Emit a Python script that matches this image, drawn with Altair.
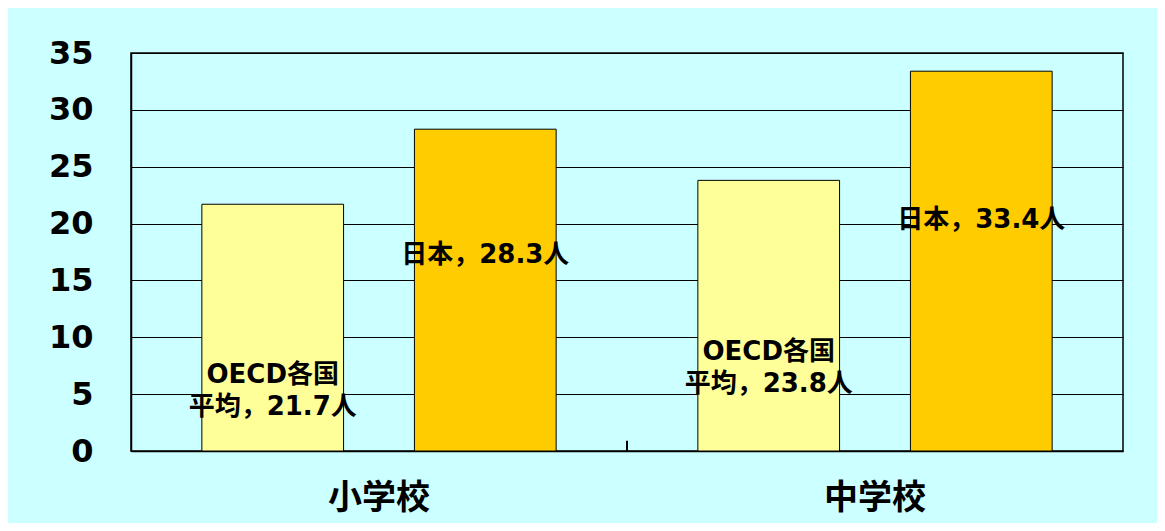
import altair as alt
import pandas as pd

schools = ["小学校", "中学校"]
series = ["OECD各国平均", "日本"]
oecd_values = [21.7, 23.8]
japan_values = [28.3, 33.4]
y_ticks = [0, 5, 10, 15, 20, 25, 30, 35]

rows = []
for s, o, j in zip(schools, oecd_values, japan_values):
    rows.append({"school": s, "series": series[0], "value": o,
                 "label": f"OECD各国\n平均，{o}人"})
    rows.append({"school": s, "series": series[1], "value": j,
                 "label": f"日本，{j}人"})
df = pd.DataFrame(rows)

# annotation anchor heights (data units) for each label, as placed in the original
label_anchor = {("小学校", "OECD各国平均"): 6.65, ("小学校", "日本"): 17.2,
                ("中学校", "OECD各国平均"): 8.7, ("中学校", "日本"): 20.3}
df["label_y"] = [label_anchor[(r.school, r.series)] for r in df.itertuples()]

x_enc = alt.X("school:N", sort=schools,
              scale=alt.Scale(paddingInner=0, paddingOuter=0),
              axis=alt.Axis(title=None, labelAngle=0, ticks=False,
                            labelFontSize=34, labelFont="Noto Sans CJK JP",
                            labelFontWeight="bold", labelColor="black",
                            labelPadding=30, domainColor="black",
                            domainWidth=1.5))
xo_enc = alt.XOffset("series:N", sort=series,
                     scale=alt.Scale(paddingInner=1/3, paddingOuter=1/3))
y_scale = alt.Scale(domain=[0, 35], nice=False)

bars = alt.Chart(df).mark_bar(stroke="black", strokeWidth=1).encode(
    x=x_enc,
    xOffset=xo_enc,
    y=alt.Y("value:Q", scale=y_scale,
            axis=alt.Axis(title=None, values=y_ticks, ticks=False,
                          labelFontSize=32, labelFont="DejaVu Sans",
                          labelFontWeight="bold", labelColor="black",
                          labelPadding=38, grid=True, gridColor="black",
                          gridWidth=1, domainColor="black", domainWidth=1.5)),
    color=alt.Color("series:N", sort=series,
                    scale=alt.Scale(domain=series, range=["#FFFF99", "#FFCC00"]),
                    legend=None),
)

labels = alt.Chart(df).mark_text(
    fontSize=26, font="DejaVu Sans, Noto Sans CJK JP", fontWeight="bold",
    color="black", lineBreak="\n", lineHeight=32, baseline="middle",
    align="center"
).encode(
    x=alt.X("school:N", sort=schools),
    xOffset=alt.XOffset("series:N", sort=series),
    y=alt.Y("label_y:Q", scale=y_scale),
    text="label:N",
)

tick_df = pd.DataFrame({"school": [schools[0]], "y0": [0.0], "y1": [0.9]})
mid_tick = alt.Chart(tick_df).mark_rule(color="black", strokeWidth=2).encode(
    x=alt.X("school:N", sort=schools, bandPosition=1),
    y=alt.Y("y0:Q", scale=y_scale),
    y2="y1:Q",
)

chart = alt.layer(bars, labels, mid_tick).properties(
    width=992, height=398,
    autosize=alt.AutoSizeParams(type="none"),
    padding={"left": 123, "top": 45, "right": 34, "bottom": 72},
    background="#CCFFFF",
).configure_view(stroke="black", strokeWidth=1.5, fill="#CCFFFF")

chart.save("out.html", embed_options={"renderer": "svg", "actions": False})
